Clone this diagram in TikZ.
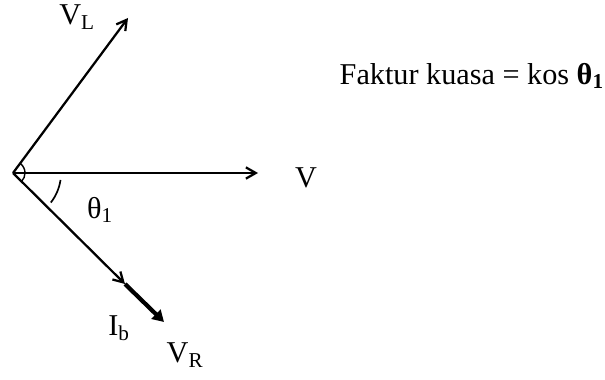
\documentclass[tikz,border=0pt]{standalone}
\usepackage{fontspec}
\setmainfont{Liberation Serif}
\usepackage{tikz}
\usetikzlibrary{arrows.meta,positioning,calc}

\begin{document}
\begin{tikzpicture}[
  x=0.025cm, y=-0.025cm,
  font=\fontsize{21.5}{25}\selectfont,
  vec/.style={-{Straight Barb[length=7pt,width=8pt]},line width=1.6pt},
  thickvec/.style={-{Triangle[length=8pt,width=9pt]},line width=3pt},
  lbl/.style={inner sep=1pt},
]
\useasboundingbox (0,0) rectangle (605,380);
% phasor end points
\coordinate (o) at (13,173);
\coordinate (vl) at (128,18);
\coordinate (v) at (258,173);
\coordinate (ib) at (125,284);
\coordinate (vr) at (164,322);
% vectors
\draw[vec] (o) -- (vl);
\draw[vec] (o) -- (v);
\draw[vec] (o) -- (ib);
\draw[thickvec] (ib) -- (vr);
% angles
\draw[line width=1pt] ($(o)+(12,0)$) arc[start angle=0,end angle=-53,radius=12];
\draw[line width=1pt] ($(o)+(12,0)$) arc[start angle=0,end angle=45,radius=12];
\draw[line width=1.2pt] ($(o)+(47.5,7)$) arc[start angle=8.4,end angle=38,radius=48];
% labels
\node[lbl] (lvl) at (77,17) {V\textsubscript{L}};
\node[lbl] (lv) at (306,178) {V};
\node[lbl] (lth) at (100,210) {θ\textsubscript{1}};
\node[lbl] (lib) at (119,328) {I\textsubscript{b}};
\node[lbl] (lvr) at (185,355) {V\textsubscript{R}};
\node[lbl,anchor=west] (pf) at (338,76) {Faktur kuasa = kos \textbf{θ\textsubscript{1}}};
\end{tikzpicture}
\end{document}
